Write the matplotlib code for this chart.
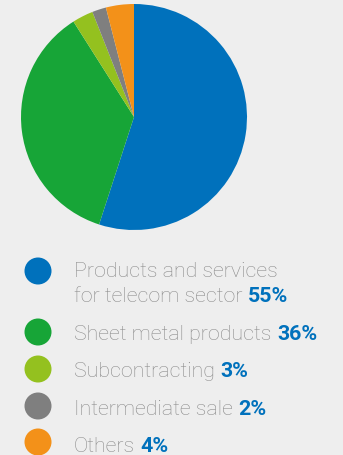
import matplotlib.pyplot as plt
from matplotlib.patches import Circle

# revenue split (percent)
labels = ["Products and services\nfor telecom sector", "Sheet metal products",
          "Subcontracting", "Intermediate sale", "Others"]
shares = [55, 36, 3, 2, 4]
colors = ["#0071bc", "#17a537", "#94c11f", "#7f7f7f", "#f39119"]

BG = "#eeeeee"
TXT = "#8a8a8a"
BLUE = "#0071bc"

W, H = 343, 456
fig = plt.figure(figsize=(W / 100, H / 100), dpi=100)
fig.patch.set_facecolor(BG)

# pie: centre (134,118) px, radius 113 px
cx, cy, r = 134, 118, 113
ax = fig.add_axes([(cx - r) / W, 1 - (cy + r) / H, 2 * r / W, 2 * r / H])
ax.pie(shares, colors=colors, startangle=90, counterclock=False,
       wedgeprops=dict(linewidth=0))
ax.set_aspect("equal")
ax.set_xlim(-1, 1)
ax.set_ylim(-1, 1)
ax.axis("off")

# legend area in pixel coords
lax = fig.add_axes([0, 0, 1, 1])
lax.set_xlim(0, W)
lax.set_ylim(H, 0)
lax.axis("off")

dot_y = [272, 333, 370, 407, 443]
base_y = [302, 340, 377, 415, 452]
fs = 15.4
font = dict(family=["Roboto", "DejaVu Sans"])

for lab, val, col, dy, by in zip(labels, shares, colors, dot_y, base_y):
    lax.add_patch(Circle((38, dy), 13.5, color=col, lw=0))
    lines = lab.split("\n")
    # earlier lines (if any) stacked above the last one
    for k, ln in enumerate(lines[:-1]):
        lax.text(74, by - 25 * (len(lines) - 1 - k), ln, fontsize=fs,
                 color=TXT, fontweight="light", va="baseline", **font)
    t = lax.text(74, by, lines[-1], fontsize=fs, color=TXT,
                 fontweight="light", va="baseline", **font)
    lax.annotate(f"{val}%", xy=(1, 0), xycoords=t, xytext=(4, 0),
                 textcoords="offset points", fontsize=fs, color=BLUE,
                 fontweight="bold", va="bottom", **font)

fig.savefig("out.png", dpi=100, facecolor=BG)
